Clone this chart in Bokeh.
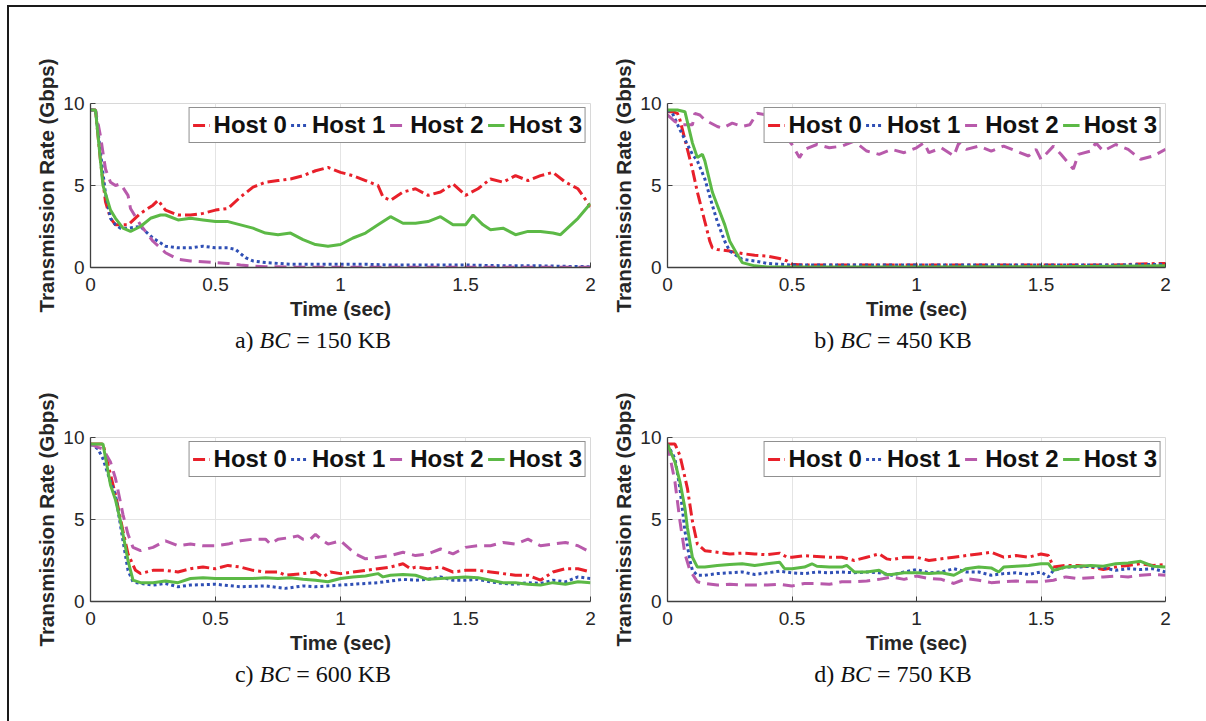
from bokeh.plotting import figure
from bokeh.models import Legend, LegendItem, Div, Spacer, FixedTicker, Range1d
from bokeh.layouts import column, row
from bokeh.embed import file_html
from bokeh.resources import INLINE

NAMES = ["Host 0", "Host 1", "Host 2", "Host 3"]
COLORS = ["#e8202a", "#2f4fb5", "#b85aab", "#5cb946"]
DASHES = ["12 4 3 4", "3 3", "12 7", "solid"]
X_TICKS = [0, 0.5, 1, 1.5, 2]
X_LABELS = ["0", "0.5", "1", "1.5", "2"]
Y_TICKS = [0, 5, 10]
CAPTIONS = [("a)", "150 KB"), ("b)", "450 KB"), ("c)", "600 KB"), ("d)", "750 KB")]

# ---- panel a : BC = 150 KB
A0_t = [0, 0.02, 0.04, 0.06, 0.08, 0.10, 0.15, 0.20, 0.25, 0.27, 0.30, 0.35, 0.40, 0.45, 0.50, 0.55, 0.60, 0.65, 0.70, 0.75, 0.80, 0.85, 0.90, 0.95, 1.00, 1.05, 1.10, 1.15, 1.17, 1.20, 1.25, 1.30, 1.35, 1.40, 1.45, 1.50, 1.55, 1.60, 1.65, 1.70, 1.75, 1.80, 1.85, 1.90, 1.95, 2.00]
A0_v = [9.6, 9.6, 6.5, 4.0, 3.0, 2.6, 2.6, 3.3, 3.8, 4.1, 3.5, 3.2, 3.2, 3.3, 3.5, 3.6, 4.3, 4.9, 5.2, 5.3, 5.4, 5.6, 5.9, 6.1, 5.8, 5.6, 5.3, 5.0, 4.3, 4.1, 4.6, 4.8, 4.4, 4.6, 5.1, 4.4, 4.8, 5.4, 5.2, 5.6, 5.3, 5.6, 5.8, 5.2, 4.8, 3.7]
A1_t = [0, 0.02, 0.04, 0.06, 0.08, 0.10, 0.12, 0.15, 0.20, 0.22, 0.25, 0.30, 0.35, 0.40, 0.45, 0.50, 0.55, 0.58, 0.62, 0.65, 0.70, 0.80, 0.90, 1.00, 1.10, 1.20, 1.30, 1.40, 1.50, 1.60, 1.70, 1.80, 1.90, 2.00]
A1_v = [9.6, 9.6, 7.0, 4.5, 3.0, 2.6, 2.4, 2.4, 2.5, 2.2, 1.8, 1.3, 1.2, 1.2, 1.3, 1.2, 1.2, 1.1, 0.6, 0.4, 0.3, 0.2, 0.2, 0.2, 0.2, 0.15, 0.15, 0.15, 0.15, 0.12, 0.1, 0.1, 0.07, 0.05]
A2_t = [0, 0.02, 0.04, 0.06, 0.08, 0.10, 0.12, 0.15, 0.16, 0.20, 0.25, 0.30, 0.35, 0.40, 0.50, 0.55, 0.60, 0.65, 0.70, 0.80, 1.00, 1.50, 2.00]
A2_v = [9.6, 9.6, 8.0, 6.0, 5.2, 5.0, 5.1, 4.4, 3.6, 2.6, 1.6, 0.9, 0.5, 0.4, 0.3, 0.25, 0.15, 0.08, 0.05, 0.02, 0.02, 0.02, 0.02]
A3_t = [0, 0.02, 0.04, 0.05, 0.08, 0.10, 0.13, 0.16, 0.20, 0.24, 0.28, 0.30, 0.35, 0.40, 0.45, 0.50, 0.55, 0.60, 0.65, 0.70, 0.75, 0.80, 0.85, 0.90, 0.95, 1.00, 1.05, 1.10, 1.15, 1.20, 1.25, 1.30, 1.35, 1.40, 1.45, 1.50, 1.53, 1.57, 1.60, 1.65, 1.70, 1.75, 1.80, 1.85, 1.88, 1.95, 2.00]
A3_v = [9.6, 9.6, 6.5, 5.0, 3.5, 3.0, 2.4, 2.2, 2.5, 3.0, 3.2, 3.2, 2.9, 3.0, 2.9, 2.8, 2.8, 2.6, 2.4, 2.1, 2.0, 2.1, 1.7, 1.4, 1.3, 1.4, 1.8, 2.1, 2.6, 3.1, 2.7, 2.7, 2.8, 3.1, 2.6, 2.6, 3.2, 2.6, 2.3, 2.4, 2.0, 2.2, 2.2, 2.1, 2.0, 3.0, 3.9]

# ---- panel b : BC = 450 KB
B0_t = [0, 0.02, 0.04, 0.05, 0.08, 0.10, 0.12, 0.15, 0.17, 0.18, 0.20, 0.25, 0.30, 0.35, 0.40, 0.45, 0.48, 0.50, 0.55, 1.00, 1.50, 1.80, 1.90, 2.00]
B0_v = [9.5, 9.5, 9.4, 9.0, 7.2, 6.0, 4.6, 2.8, 1.6, 1.2, 1.1, 1.0, 0.85, 0.75, 0.7, 0.55, 0.4, 0.2, 0.15, 0.15, 0.15, 0.15, 0.22, 0.25]
B1_t = [0, 0.02, 0.05, 0.10, 0.12, 0.15, 0.18, 0.20, 0.23, 0.25, 0.30, 0.35, 0.40, 0.50, 1.00, 1.50, 1.80, 2.00]
B1_v = [9.6, 9.4, 8.4, 6.9, 6.5, 5.4, 3.8, 2.8, 1.6, 1.0, 0.5, 0.4, 0.25, 0.15, 0.15, 0.15, 0.15, 0.2]
B2_t = [0, 0.03, 0.06, 0.10, 0.11, 0.13, 0.15, 0.20, 0.22, 0.26, 0.30, 0.33, 0.36, 0.40, 0.45, 0.50, 0.53, 0.55, 0.60, 0.65, 0.70, 0.75, 0.80, 0.85, 0.90, 0.95, 1.00, 1.03, 1.05, 1.10, 1.15, 1.17, 1.20, 1.25, 1.30, 1.35, 1.40, 1.45, 1.48, 1.50, 1.55, 1.58, 1.63, 1.65, 1.70, 1.72, 1.75, 1.80, 1.85, 1.90, 1.95, 2.00]
B2_v = [9.3, 8.9, 8.7, 8.7, 9.4, 9.3, 9.0, 8.6, 8.5, 8.8, 8.6, 8.7, 9.4, 9.3, 8.5, 7.5, 6.7, 7.2, 7.5, 7.3, 7.4, 7.7, 7.1, 6.9, 7.2, 7.0, 7.3, 7.6, 7.0, 7.3, 6.8, 7.6, 7.2, 7.4, 7.1, 7.4, 7.1, 6.8, 7.2, 6.6, 7.4, 6.9, 6.0, 6.9, 7.1, 7.6, 7.1, 7.5, 7.2, 6.6, 6.8, 7.2]
B3_t = [0, 0.04, 0.07, 0.10, 0.12, 0.14, 0.15, 0.18, 0.20, 0.23, 0.25, 0.28, 0.30, 0.35, 0.40, 1.00, 1.50, 1.80, 2.00]
B3_v = [9.6, 9.6, 9.5, 7.6, 6.7, 6.9, 6.5, 4.6, 3.8, 2.6, 1.6, 0.8, 0.3, 0.1, 0.03, 0.03, 0.05, 0.08, 0.1]

# ---- panel c : BC = 600 KB
C0_t = [0, 0.05, 0.10, 0.13, 0.15, 0.18, 0.20, 0.25, 0.30, 0.35, 0.40, 0.45, 0.50, 0.55, 0.60, 0.65, 0.70, 0.75, 0.78, 0.85, 0.90, 0.93, 0.96, 1.00, 1.05, 1.10, 1.15, 1.20, 1.25, 1.28, 1.30, 1.35, 1.40, 1.45, 1.50, 1.55, 1.60, 1.65, 1.70, 1.75, 1.80, 1.85, 1.90, 1.95, 2.00]
C0_v = [9.6, 9.6, 6.5, 4.3, 2.9, 1.9, 1.7, 1.9, 1.9, 1.8, 2.0, 2.1, 2.0, 2.2, 2.1, 1.9, 1.8, 1.8, 1.6, 1.7, 1.8, 1.5, 1.8, 1.7, 1.8, 1.9, 2.0, 2.1, 2.3, 2.0, 2.1, 2.0, 2.1, 1.8, 1.9, 1.9, 1.8, 1.7, 1.6, 1.6, 1.3, 1.8, 2.0, 2.0, 1.8]
C1_t = [0, 0.03, 0.05, 0.08, 0.10, 0.13, 0.15, 0.17, 0.20, 0.25, 0.30, 0.35, 0.40, 0.50, 0.60, 0.70, 0.78, 0.85, 0.90, 1.00, 1.10, 1.15, 1.20, 1.25, 1.30, 1.35, 1.40, 1.45, 1.50, 1.55, 1.60, 1.65, 1.70, 1.75, 1.80, 1.85, 1.90, 1.95, 2.00]
C1_v = [9.6, 9.3, 8.7, 7.3, 6.5, 3.7, 1.9, 1.2, 1.1, 1.0, 1.1, 0.9, 1.0, 1.05, 0.9, 0.95, 0.8, 0.95, 0.9, 1.0, 1.1, 1.15, 1.25, 1.35, 1.3, 1.35, 1.5, 1.3, 1.3, 1.35, 1.2, 1.1, 1.05, 1.15, 1.1, 1.3, 1.2, 1.5, 1.4]
C2_t = [0, 0.03, 0.05, 0.08, 0.10, 0.13, 0.15, 0.17, 0.20, 0.25, 0.30, 0.35, 0.40, 0.45, 0.50, 0.55, 0.60, 0.65, 0.70, 0.72, 0.75, 0.80, 0.83, 0.85, 0.88, 0.90, 0.93, 0.95, 1.00, 1.03, 1.06, 1.10, 1.15, 1.20, 1.25, 1.30, 1.35, 1.40, 1.45, 1.50, 1.55, 1.60, 1.65, 1.70, 1.75, 1.80, 1.85, 1.90, 1.95, 2.00]
C2_v = [9.6, 9.4, 9.3, 8.5, 7.5, 5.3, 4.1, 3.3, 3.1, 3.3, 3.7, 3.4, 3.5, 3.4, 3.4, 3.5, 3.7, 3.8, 3.8, 3.5, 3.8, 3.9, 4.0, 3.8, 3.8, 4.1, 3.7, 3.5, 3.7, 3.3, 2.9, 2.6, 2.7, 2.8, 3.0, 2.8, 2.9, 3.2, 2.9, 3.3, 3.4, 3.4, 3.6, 3.5, 3.8, 3.4, 3.5, 3.6, 3.4, 3.0]
C3_t = [0, 0.05, 0.08, 0.10, 0.12, 0.15, 0.17, 0.20, 0.25, 0.30, 0.35, 0.40, 0.45, 0.50, 0.55, 0.60, 0.65, 0.70, 0.75, 0.80, 0.85, 0.90, 0.95, 1.00, 1.05, 1.10, 1.15, 1.17, 1.20, 1.25, 1.30, 1.35, 1.40, 1.45, 1.50, 1.55, 1.60, 1.65, 1.70, 1.75, 1.80, 1.85, 1.90, 1.95, 2.00]
C3_v = [9.6, 9.6, 7.1, 6.2, 4.9, 2.5, 1.3, 1.15, 1.15, 1.25, 1.15, 1.4, 1.45, 1.4, 1.4, 1.4, 1.4, 1.45, 1.4, 1.45, 1.35, 1.3, 1.2, 1.4, 1.5, 1.55, 1.7, 1.5, 1.6, 1.65, 1.6, 1.35, 1.4, 1.45, 1.5, 1.45, 1.3, 1.15, 1.15, 1.05, 1.0, 1.15, 1.05, 1.2, 1.15]

# ---- panel d : BC = 750 KB
D0_t = [0, 0.03, 0.05, 0.08, 0.10, 0.12, 0.15, 0.20, 0.25, 0.30, 0.35, 0.40, 0.45, 0.48, 0.50, 0.55, 0.60, 0.65, 0.70, 0.75, 0.80, 0.85, 0.88, 0.90, 0.95, 1.00, 1.05, 1.10, 1.15, 1.20, 1.25, 1.30, 1.35, 1.40, 1.45, 1.50, 1.53, 1.55, 1.60, 1.65, 1.70, 1.75, 1.80, 1.85, 1.90, 1.95, 2.00]
D0_v = [9.6, 9.6, 8.9, 6.9, 4.9, 3.5, 3.1, 3.0, 2.9, 2.95, 2.9, 2.85, 2.95, 2.7, 2.7, 2.8, 2.75, 2.7, 2.7, 2.5, 2.7, 2.9, 2.6, 2.55, 2.7, 2.7, 2.5, 2.6, 2.7, 2.8, 2.9, 3.0, 2.7, 2.8, 2.7, 2.9, 2.8, 2.1, 2.2, 2.2, 2.1, 1.95, 2.1, 2.2, 2.3, 2.2, 2.25]
D1_t = [0, 0.03, 0.05, 0.07, 0.09, 0.10, 0.12, 0.15, 0.20, 0.25, 0.30, 0.35, 0.40, 0.45, 0.50, 0.55, 0.60, 0.65, 0.70, 0.75, 0.80, 0.85, 0.90, 0.95, 1.00, 1.05, 1.10, 1.15, 1.20, 1.25, 1.30, 1.35, 1.40, 1.45, 1.50, 1.53, 1.55, 1.60, 1.65, 1.70, 1.75, 1.80, 1.85, 1.90, 1.95, 2.00]
D1_v = [9.6, 8.7, 6.9, 4.3, 2.5, 1.9, 1.6, 1.6, 1.7, 1.75, 1.8, 1.65, 1.75, 1.85, 1.75, 1.7, 1.8, 1.75, 1.8, 1.75, 1.8, 1.75, 1.6, 1.8, 1.95, 1.75, 1.8, 2.0, 1.8, 1.8, 1.6, 1.7, 1.75, 1.65, 1.8, 1.5, 1.9, 2.1, 2.1, 2.15, 2.05, 1.9, 2.0, 1.95, 2.0, 1.8]
D2_t = [0, 0.03, 0.05, 0.07, 0.09, 0.12, 0.15, 0.20, 0.25, 0.30, 0.35, 0.40, 0.45, 0.50, 0.55, 0.60, 0.65, 0.70, 0.75, 0.80, 0.85, 0.90, 0.95, 1.00, 1.05, 1.10, 1.15, 1.20, 1.25, 1.30, 1.35, 1.40, 1.45, 1.50, 1.55, 1.60, 1.65, 1.70, 1.75, 1.80, 1.85, 1.90, 1.95, 2.00]
D2_v = [9.6, 7.3, 4.9, 2.9, 1.9, 1.2, 1.1, 1.0, 1.05, 1.0, 1.0, 1.0, 1.05, 0.95, 1.1, 1.1, 1.05, 1.2, 1.2, 1.25, 1.35, 1.5, 1.35, 1.55, 1.4, 1.35, 1.1, 1.4, 1.3, 1.15, 1.2, 1.25, 1.2, 1.2, 1.3, 1.5, 1.4, 1.45, 1.5, 1.55, 1.5, 1.6, 1.65, 1.6]
D3_t = [0, 0.03, 0.05, 0.07, 0.08, 0.10, 0.12, 0.15, 0.20, 0.25, 0.30, 0.35, 0.40, 0.45, 0.47, 0.50, 0.55, 0.58, 0.60, 0.65, 0.70, 0.72, 0.75, 0.80, 0.85, 0.88, 0.90, 0.95, 1.00, 1.05, 1.10, 1.15, 1.20, 1.25, 1.30, 1.33, 1.35, 1.40, 1.45, 1.50, 1.53, 1.55, 1.60, 1.65, 1.70, 1.75, 1.80, 1.85, 1.90, 1.95, 2.00]
D3_v = [9.6, 8.5, 7.3, 5.7, 4.5, 2.7, 2.1, 2.1, 2.2, 2.25, 2.3, 2.2, 2.3, 2.4, 2.0, 2.0, 2.1, 2.3, 2.15, 2.1, 2.1, 2.2, 1.8, 1.8, 1.9, 1.65, 1.65, 1.75, 1.75, 1.7, 1.75, 1.6, 2.0, 2.1, 2.05, 1.8, 2.1, 2.15, 2.2, 2.3, 2.3, 1.9, 2.1, 2.15, 2.2, 2.15, 2.3, 2.35, 2.45, 2.15, 2.1]

PANELS = [
    [(A0_t, A0_v), (A1_t, A1_v), (A2_t, A2_v), (A3_t, A3_v)],
    [(B0_t, B0_v), (B1_t, B1_v), (B2_t, B2_v), (B3_t, B3_v)],
    [(C0_t, C0_v), (C1_t, C1_v), (C2_t, C2_v), (C3_t, C3_v)],
    [(D0_t, D0_v), (D1_t, D1_v), (D2_t, D2_v), (D3_t, D3_v)],
]
for pan in PANELS:
    for t, v in pan:
        assert len(t) == len(v), (len(t), len(v))

AXIS_COL = "#404040"
TEXT_COL = "#262626"


def make_panel(idx, width, height, bl, br, bt, bb):
    p = figure(width=width, height=height, x_range=Range1d(0, 2), y_range=Range1d(0, 10),
               output_backend="svg", toolbar_location=None,
               min_border_left=bl, min_border_right=br, min_border_top=bt, min_border_bottom=bb,
               x_axis_label="Time (sec)", y_axis_label="Transmission Rate (Gbps)")
    p.margin = 0
    p.background_fill_color = "white"
    p.border_fill_color = "white"
    p.outline_line_color = "#d8d8d8"
    p.outline_line_width = 1
    p.xaxis.ticker = FixedTicker(ticks=X_TICKS)
    p.yaxis.ticker = FixedTicker(ticks=Y_TICKS)
    p.xgrid.ticker = FixedTicker(ticks=X_TICKS)
    p.ygrid.ticker = FixedTicker(ticks=Y_TICKS)
    p.xaxis.major_label_overrides = {t: s for t, s in zip(X_TICKS, X_LABELS)}
    for g in (p.xgrid[0], p.ygrid[0]):
        g.grid_line_color = "#e4e4e4"
        g.grid_line_width = 1
    for ax in (p.xaxis[0], p.yaxis[0]):
        ax.axis_line_color = AXIS_COL
        ax.axis_line_width = 1.3
        ax.major_tick_line_color = AXIS_COL
        ax.major_tick_in = 5
        ax.major_tick_out = 0
        ax.minor_tick_line_color = None
        ax.major_label_text_font = "Liberation Sans"
        ax.major_label_text_font_size = "19px"
        ax.major_label_text_color = TEXT_COL
        ax.axis_label_text_font = "Liberation Sans"
        ax.axis_label_text_font_style = "bold"
        ax.axis_label_text_font_size = "20.5px"
        ax.axis_label_text_color = TEXT_COL
    p.xaxis[0].major_label_standoff = 10
    p.xaxis[0].axis_label_standoff = 3
    p.yaxis[0].major_label_standoff = 6
    p.yaxis[0].axis_label_standoff = 2

    rends = []
    for i, (t, v) in enumerate(PANELS[idx]):
        r = p.line(t, v, line_color=COLORS[i], line_width=3, line_dash=DASHES[i])
        rends.append(r)
    legend = Legend(items=[LegendItem(label=NAMES[i], renderers=[rends[i]]) for i in range(4)],
                    orientation="horizontal", location="top_right")
    legend.margin = 4
    legend.padding = 3
    legend.spacing = 4
    legend.label_standoff = 4
    legend.glyph_width = 17
    legend.glyph_height = 26
    legend.label_height = 26
    legend.label_text_font = "Liberation Sans"
    legend.label_text_font_style = "bold"
    legend.label_text_font_size = "24px"
    legend.label_text_color = "#111111"
    legend.border_line_color = "#222222"
    legend.border_line_width = 1
    legend.background_fill_color = "white"
    legend.background_fill_alpha = 1.0
    p.add_layout(legend)
    return p


def caption(idx, width, height):
    letter, size = CAPTIONS[idx]
    html = ('<div style="font-family: \'Liberation Serif\', serif; font-size: 24px; '
            f'display: block; width: {width}px; height: {height}px; '
            f'line-height: {height}px; text-align: center; color: #111; white-space: nowrap;">'
            f'{letter} <i>BC</i> = {size}</div>')
    return Div(text=html, width=width, height=height, margin=0,
               styles={"text-align": "center", "width": f"{width}px"})


def sp(w, h):
    return Spacer(width=w, height=h, margin=0)


# top row (frames at page y 103..267), bottom row (frames at page y 437..601)
fa = make_panel(0, 596, 322, 81, 15, 96, 62)
fb = make_panel(1, 601, 322, 62, 41, 96, 62)
fc = make_panel(2, 596, 312, 81, 15, 86, 62)
fd = make_panel(3, 601, 312, 62, 41, 86, 62)

cap_h = 22
cap_row_1 = row(sp(154, cap_h), caption(0, 300, cap_h), sp(280, cap_h), caption(1, 300, cap_h), sp(163, cap_h))
cap_row_2 = row(sp(154, cap_h), caption(2, 300, cap_h), sp(280, cap_h), caption(3, 300, cap_h), sp(163, cap_h))

grid = column(row(fa, fb), cap_row_1, row(fc, fd), cap_row_2)

top_line = Div(text="", width=1199, height=2, margin=0, styles={"background-color": "#1a1a1a"})
left_line = Div(text="", width=2, height=714, margin=0, styles={"background-color": "#1a1a1a"})

page = column(
    sp(1206, 5),
    row(sp(7, 2), top_line),
    row(sp(7, 714), left_line, grid),
)

open("out.html", "w").write(file_html(page, INLINE))
